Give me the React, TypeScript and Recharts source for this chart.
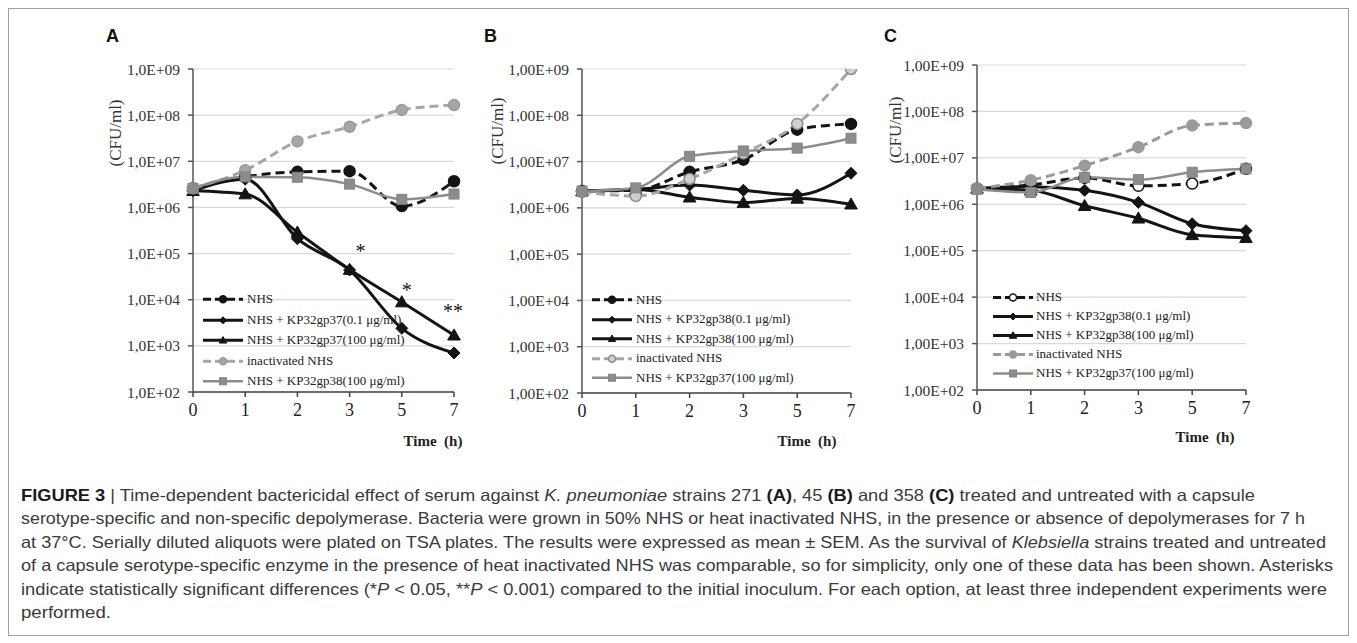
import React from "react";
import { LineChart, Line, XAxis, YAxis, CartesianGrid, Legend, LabelList } from "recharts";

// sampling times (h), shown as equally spaced categories
const times = ["0", "1", "2", "3", "5", "7"];

const yTicks = [1e2, 1e3, 1e4, 1e5, 1e6, 1e7, 1e8, 1e9];
const yLabelsA = ["1,0E+02", "1,0E+03", "1,0E+04", "1,0E+05", "1,0E+06", "1,0E+07", "1,0E+08", "1,0E+09"];
const yLabelsBC = ["1,00E+02", "1,00E+03", "1,00E+04", "1,00E+05", "1,00E+06", "1,00E+07", "1,00E+08", "1,00E+09"];

const namesA = ["NHS", "NHS + KP32gp37(0.1 μg/ml)", "NHS + KP32gp37(100 μg/ml)", "inactivated NHS", "NHS + KP32gp38(100 μg/ml)"];
const namesBC = ["NHS", "NHS + KP32gp38(0.1 μg/ml)", "NHS + KP32gp38(100 μg/ml)", "inactivated NHS", "NHS + KP32gp37(100 μg/ml)"];

// A - strain 271 (CFU/ml)
const nhsA = [2.6e6, 4.6e6, 5.9e6, 6.1e6, 1.07e6, 3.7e6];
const lowA = [2.3e6, 4.1e6, 2.1e5, 4.4e4, 2.4e3, 7.0e2];
const highA = [2.3e6, 1.95e6, 2.9e5, 4.5e4, 8.9e3, 1.7e3];
const inactA = [2.6e6, 6.4e6, 2.7e7, 5.6e7, 1.3e8, 1.65e8];
const otherA = [2.6e6, 4.6e6, 4.5e6, 3.2e6, 1.5e6, 1.95e6];
const starsA = ["", "", "", "*", "*", "**"];

// B - strain 45
const nhsB = [2.3e6, 2.4e6, 6.0e6, 1.1e7, 4.9e7, 6.5e7];
const lowB = [2.3e6, 2.5e6, 3.1e6, 2.4e6, 1.9e6, 5.6e6];
const highB = [2.3e6, 2.5e6, 1.7e6, 1.3e6, 1.6e6, 1.2e6];
const inactB = [2.2e6, 1.8e6, 4.2e6, 1.5e7, 6.5e7, 1.0e9];
const otherB = [2.3e6, 2.7e6, 1.3e7, 1.7e7, 1.95e7, 3.2e7];

// C - strain 358
const nhsC = [2.2e6, 2.6e6, 3.7e6, 2.5e6, 2.8e6, 5.8e6];
const lowC = [2.2e6, 2.4e6, 2.0e6, 1.1e6, 3.8e5, 2.7e5];
const highC = [2.2e6, 2.0e6, 9.3e5, 5.0e5, 2.2e5, 1.9e5];
const inactC = [2.2e6, 3.3e6, 6.8e6, 1.7e7, 5.0e7, 5.6e7];
const otherC = [2.1e6, 1.8e6, 3.8e6, 3.4e6, 4.9e6, 5.8e6];

const keys = ["nhs", "low", "high", "inact", "other"];
const serif = "'Liberation Serif', 'Times New Roman', serif";
const sans = "'Liberation Sans', Arial, sans-serif";

const baseStyle: any = {
  nhs: { stroke: "#141414", dash: "9 5", width: 3, shape: "circle", fill: "#141414", mstroke: "#141414", size: 11 },
  low: { stroke: "#141414", width: 3, shape: "diamond", fill: "#141414", mstroke: "#141414", size: 12 },
  high: { stroke: "#141414", width: 3, shape: "triangle", fill: "#141414", mstroke: "#141414", size: 12 },
  inact: { stroke: "#a6a6a6", dash: "9 5", width: 3, shape: "circle", fill: "#a6a6a6", mstroke: "#9a9a9a", size: 11 },
  other: { stroke: "#8c8c8c", width: 2.5, shape: "square", fill: "#8c8c8c", mstroke: "#858585", size: 10 },
};

function rows(series: number[][], stars?: string[]) {
  return times.map((t, i) => {
    const r: any = { t, star: stars ? stars[i] : "" };
    keys.forEach((k, j) => (r[k] = series[j][i]));
    return r;
  });
}

const panels = [
  {
    id: "A", left: 92, top: 42, width: 380, height: 420,
    margin: { top: 19, right: 26, left: 13, bottom: 0 }, xH: 78,
    labels: yLabelsA, names: namesA,
    data: rows([nhsA, lowA, highA, inactA, otherA], starsA), stars: true,
    legend: { left: 103, top: 239, rowH: 20.5, gap: 4 },
    letterX: 98, timeAt: [425, 438], cfuAt: [107, 125], over: {},
  },
  {
    id: "B", left: 472, top: 42, width: 390, height: 420,
    margin: { top: 19, right: 19, left: 22, bottom: 0 }, xH: 77,
    labels: yLabelsBC, names: namesBC,
    data: rows([nhsB, lowB, highB, inactB, otherB]), stars: false,
    legend: { left: 112, top: 240, rowH: 19.5, gap: 4 },
    letterX: 476, timeAt: [799, 438], cfuAt: [489, 123],
    over: { inact: { fill: "#cfcfcf", mstroke: "#8a8a8a" } },
  },
  {
    id: "C", left: 872, top: 38, width: 380, height: 420,
    margin: { top: 19, right: 14, left: 17, bottom: 0 }, xH: 76,
    labels: yLabelsBC, names: namesBC,
    data: rows([nhsC, lowC, highC, inactC, otherC]), stars: false,
    legend: { left: 113, top: 241.5, rowH: 19, gap: 3 },
    letterX: 876, timeAt: [1197, 434], cfuAt: [887, 122],
    over: { nhs: { fill: "#ffffff" }, inact: { fill: "#9a9a9a", stroke: "#9a9a9a" } },
  },
];

function Marker({ shape, cx, cy, size, fill, stroke }: any) {
  if (cx == null || cy == null) return null;
  const h = size / 2;
  if (shape === "circle") return <circle cx={cx} cy={cy} r={h} fill={fill} stroke={stroke} strokeWidth={1.5} />;
  if (shape === "square") return <rect x={cx - h} y={cy - h} width={size} height={size} fill={fill} stroke={stroke} strokeWidth={1} />;
  if (shape === "diamond")
    return <polygon points={`${cx},${cy - h} ${cx + h},${cy} ${cx},${cy + h} ${cx - h},${cy}`} fill={fill} stroke={stroke} strokeWidth={1} />;
  return <polygon points={`${cx},${cy - h * 1.05} ${cx + h * 1.05},${cy + h * 0.8} ${cx - h * 1.05},${cy + h * 0.8}`} fill={fill} stroke={stroke} strokeWidth={1} />;
}

function styleFor(p: any, k: string) {
  return { ...baseStyle[k], ...(p.over[k] || {}) };
}

function LegendBox({ p }: any) {
  const { rowH, gap } = p.legend;
  return (
    <div>
      {keys.map((k, i) => {
        const s = styleFor(p, k);
        return (
          <div key={k} style={{ display: "flex", alignItems: "center", height: rowH }}>
            <svg width={40} height={rowH} style={{ display: "block", flex: "none" }}>
              <line x1={0} x2={40} y1={rowH / 2} y2={rowH / 2} stroke={s.stroke} strokeWidth={s.width} strokeDasharray={s.dash ? "8 4" : undefined} />
              <Marker shape={s.shape} cx={20} cy={rowH / 2} size={7} fill={s.fill} stroke={s.mstroke} />
            </svg>
            <span style={{ marginLeft: gap, fontFamily: serif, fontSize: 13, color: "#222", whiteSpace: "nowrap" }}>{p.names[i]}</span>
          </div>
        );
      })}
    </div>
  );
}

const starShift: any = { 3: [11, -21], 4: [5, -15], 5: [-1, -27] };

function renderStar(props: any) {
  const { x, y, value, index } = props;
  if (!value) return null;
  const [dx, dy] = starShift[index] || [0, -20];
  return (
    <text key={`star-${index}`} x={x + dx} y={y + dy + 9.5} textAnchor="middle" fontFamily={serif} fontSize={20} fill="#141414" stroke="none">
      {value}
    </text>
  );
}

function Panel({ p }: any) {
  return (
    <div style={{ position: "absolute", left: p.left, top: p.top }}>
      <LineChart width={p.width} height={p.height} data={p.data} margin={p.margin}>
        <CartesianGrid vertical={false} stroke="#d9d9d9" strokeWidth={1.2} />
        <XAxis
          dataKey="t"
          type="category"
          height={p.xH}
          interval={0}
          tickSize={5}
          tickMargin={6}
          tick={{ fontFamily: serif, fontSize: 18, fill: "#222" }}
          axisLine={{ stroke: "#444", strokeWidth: 1.5 }}
          tickLine={{ stroke: "#444", strokeWidth: 1.5 }}
        />
        <YAxis
          type="number"
          scale="log"
          domain={[100, 1e9]}
          ticks={yTicks}
          interval={0}
          allowDataOverflow
          width={80}
          tickSize={5}
          tickMargin={8}
          tick={{ fontFamily: serif, fontSize: 15.5, fill: "#333" }}
          tickFormatter={(v: number) => p.labels[yTicks.indexOf(v)]}
          axisLine={{ stroke: "#555", strokeWidth: 1.5 }}
          tickLine={{ stroke: "#555", strokeWidth: 1.5 }}
        />
        <Legend
          layout="vertical"
          align="center"
          verticalAlign="middle"
          wrapperStyle={{ left: p.legend.left, top: p.legend.top, width: 230 }}
          content={() => <LegendBox p={p} />}
        />
        {keys.map((k, i) => {
          const s = styleFor(p, k);
          return (
            <Line
              key={k}
              dataKey={k}
              name={p.names[i]}
              type="monotone"
              stroke={s.stroke}
              strokeWidth={s.width}
              strokeDasharray={s.dash}
              activeDot={false}
              isAnimationActive={false}
              dot={(d: any) => (
                <Marker key={`${k}-${d.index}`} shape={s.shape} cx={d.cx} cy={d.cy} size={s.size} fill={s.fill} stroke={s.mstroke} />
              )}
            >
              {k === "high" && p.stars ? <LabelList dataKey="star" content={renderStar} /> : null}
            </Line>
          );
        })}
      </LineChart>
    </div>
  );
}

const caption: [string, string][][] = [
  [["FIGURE 3", "b"], [" | ", ""], ["Time-dependent bactericidal effect of serum against ", ""], ["K. pneumoniae", "i"], [" strains 271 ", ""], ["(A)", "b"], [", 45 ", ""], ["(B)", "b"], [" and 358 ", ""], ["(C)", "b"], [" treated and untreated with a capsule", ""]],
  [["serotype-specific and non-specific depolymerase. Bacteria were grown in 50% NHS or heat inactivated NHS, in the presence or absence of depolymerases for 7 h", ""]],
  [["at 37°C. Serially diluted aliquots were plated on TSA plates. The results were expressed as mean ± SEM. As the survival of ", ""], ["Klebsiella", "i"], [" strains treated and untreated", ""]],
  [["of a capsule serotype-specific enzyme in the presence of heat inactivated NHS was comparable, so for simplicity, only one of these data has been shown. Asterisks", ""]],
  [["indicate statistically significant differences (*", ""], ["P", "i"], [" < 0.05, **", ""], ["P", "i"], [" < 0.001) compared to the initial inoculum. For each option, at least three independent experiments were", ""]],
  [["performed.", ""]],
];
const captionWidths = [1234, 1284, 1305, 1312, 1306, 90];

export default function App() {
  return (
    <div style={{ position: "relative", width: 1341, height: 628 }}>
      <div style={{ position: "absolute", left: 0, top: 0, width: 1341, height: 628, boxSizing: "border-box", border: "1px solid #a0a0a0" }} />
      {panels.map((p) => (
        <Panel key={p.id} p={p} />
      ))}
      <svg width={1341} height={628} style={{ position: "absolute", left: 0, top: 0, pointerEvents: "none" }}>
        {panels.map((p) => (
          <g key={p.id}>
            <text x={p.letterX} y={33.5} fontFamily={sans} fontWeight="bold" fontSize={18} fill="#111">
              {p.id}
            </text>
            <text x={p.timeAt[0]} y={p.timeAt[1]} textAnchor="middle" fontFamily={serif} fontWeight="bold" fontSize={15} fill="#222" style={{ whiteSpace: "pre" }}>
              {"Time  (h)"}
            </text>
            <text
              x={p.cfuAt[0]}
              y={p.cfuAt[1]}
              transform={`rotate(-90 ${p.cfuAt[0]} ${p.cfuAt[1]})`}
              textAnchor="middle"
              dominantBaseline="central"
              fontFamily={serif}
              fontSize={17}
              fill="#333"
            >
              (CFU/ml)
            </text>
          </g>
        ))}
        {caption.map((line, i) => (
          <text
            key={i}
            x={13}
            y={492.5 + i * 23.5}
            fontFamily={sans}
            fontSize={16.5}
            fill="#3a3a3a"
            textLength={captionWidths[i]}
            lengthAdjust="spacingAndGlyphs"
            style={{ whiteSpace: "pre" }}
          >
            {line.map(([txt, st], j) => (
              <tspan key={j} fontWeight={st === "b" ? "bold" : undefined} fontStyle={st === "i" ? "italic" : undefined} fill={st === "b" ? "#1a1a1a" : undefined}>
                {txt}
              </tspan>
            ))}
          </text>
        ))}
      </svg>
    </div>
  );
}
